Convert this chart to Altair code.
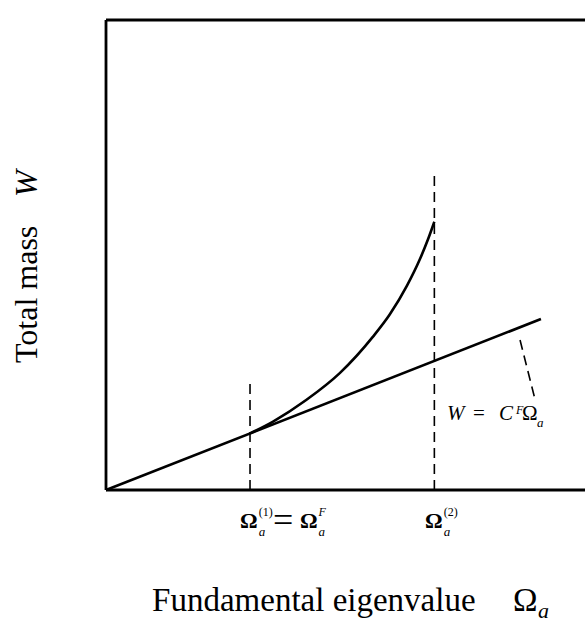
import altair as alt
import pandas as pd

# ---- data (Omega in units of Omega^(1); W in units of C^F * Omega^(1)) ----
XMAX = 3.326
YMAX = 8.304
omega1 = 1.0
omega2 = 2.28

line_x = [0.0, 3.02]
line_y = [0.0, 3.02]

curve_x = [1.0, 1.16, 1.39, 1.625, 1.854, 1.97, 2.09, 2.18, 2.236, 2.28]
curve_y = [1.0, 1.21, 1.59, 2.07, 2.71, 3.10, 3.61, 4.08, 4.43, 4.74]

dash_x = [omega1, omega2]
dash_top = [1.89, 5.57]

leader_x = [2.875, 2.98]
leader_y = [2.65, 1.59]

# ---- annotation texts (positions in data units) ----
t_normal = pd.DataFrame({
    "x": [0.32, 2.826, 1.06, 2.345, 2.549, 2.889],
    "y": [-2.138, -2.138, -0.46, -0.46, 1.237, 1.237],
    "text": ["Fundamental eigenvalue", "Ω", "(1)", "(2)", "=", "Ω"],
    "size": [33, 33, 12, 12, 21, 21],
})
t_bold = pd.DataFrame({
    "x": [0.931, 1.347, 2.215],
    "y": [-0.671, -0.671, -0.671],
    "text": ["Ω", "Ω", "Ω"],
    "size": [22, 22, 22],
})
t_eq = pd.DataFrame({"x": [1.16], "y": [-0.74], "text": ["="], "size": [36]})
t_italic = pd.DataFrame({
    "x": [2.368, 2.729, 2.847, 2.993, 1.06, 1.476, 1.476, 2.345, 3.0],
    "y": [1.237, 1.237, 1.34, 1.113, -0.81, -0.81, -0.46, -0.81, -2.26],
    "text": ["W", "C", "F", "a", "a", "a", "F", "a", "a"],
    "size": [21, 21, 12, 13, 13, 13, 12, 13, 22],
})
t_rot_normal = pd.DataFrame({"x": [-0.479], "y": [2.244], "text": ["Total mass"], "size": [32]})
t_rot_italic = pd.DataFrame({"x": [-0.479], "y": [5.177], "text": ["W"], "size": [32]})

FONT = "Liberation Serif"

xs = alt.Scale(domain=[0, XMAX])
ys = alt.Scale(domain=[0, YMAX])


def X(f="x"):
    return alt.X(f"{f}:Q", scale=xs, axis=None)


def Y(f="y"):
    return alt.Y(f"{f}:Q", scale=ys, axis=None)


# frame (left, top, bottom)
frame = pd.DataFrame({
    "x": [0.0, 0.0, 0.0],
    "x2": [0.0, XMAX, XMAX],
    "y": [0.0, YMAX, 0.0],
    "y2": [YMAX, YMAX, 0.0],
})
frame_layer = alt.Chart(frame).mark_rule(color="black", strokeWidth=2.8).encode(
    x=X(), x2="x2:Q", y=Y(), y2="y2:Q"
)

line_layer = alt.Chart(pd.DataFrame({"x": line_x, "y": line_y})).mark_line(
    color="black", strokeWidth=2.6
).encode(x=X(), y=Y())

curve_layer = alt.Chart(pd.DataFrame({"x": curve_x, "y": curve_y})).mark_line(
    color="black", strokeWidth=2.6, interpolate="monotone"
).encode(x=X(), y=Y())

dash_layer = alt.Chart(pd.DataFrame({"x": dash_x, "y": [0.0, 0.0], "y2": dash_top})).mark_rule(
    color="black", strokeWidth=1.6, strokeDash=[10, 6]
).encode(x=X(), y=Y(), y2="y2:Q")

leader_layer = alt.Chart(pd.DataFrame({"x": leader_x, "y": leader_y})).mark_line(
    color="black", strokeWidth=1.6, strokeDash=[10, 6]
).encode(x=X(), y=Y())


def text_layer(df, **kw):
    return alt.Chart(df).mark_text(
        align="left", baseline="alphabetic", font=FONT, color="black", **kw
    ).encode(x=X(), y=Y(), text="text:N", size=alt.Size("size:Q", scale=None, legend=None))


layers = [
    frame_layer,
    line_layer,
    curve_layer,
    dash_layer,
    leader_layer,
    text_layer(t_normal),
    text_layer(t_bold, fontWeight="bold"),
    text_layer(t_eq),
    text_layer(t_italic, fontStyle="italic"),
    text_layer(t_rot_normal, angle=270),
    text_layer(t_rot_italic, angle=270, fontStyle="italic"),
]

chart = alt.layer(*layers).properties(
    width=479,
    height=470,
    autosize=alt.AutoSizeParams(type="none"),
    padding={"left": 106, "top": 20, "right": 0, "bottom": 139},
    background="white",
).configure_view(stroke=None)

chart.save("out.html", embed_options={"renderer": "svg", "actions": False})
